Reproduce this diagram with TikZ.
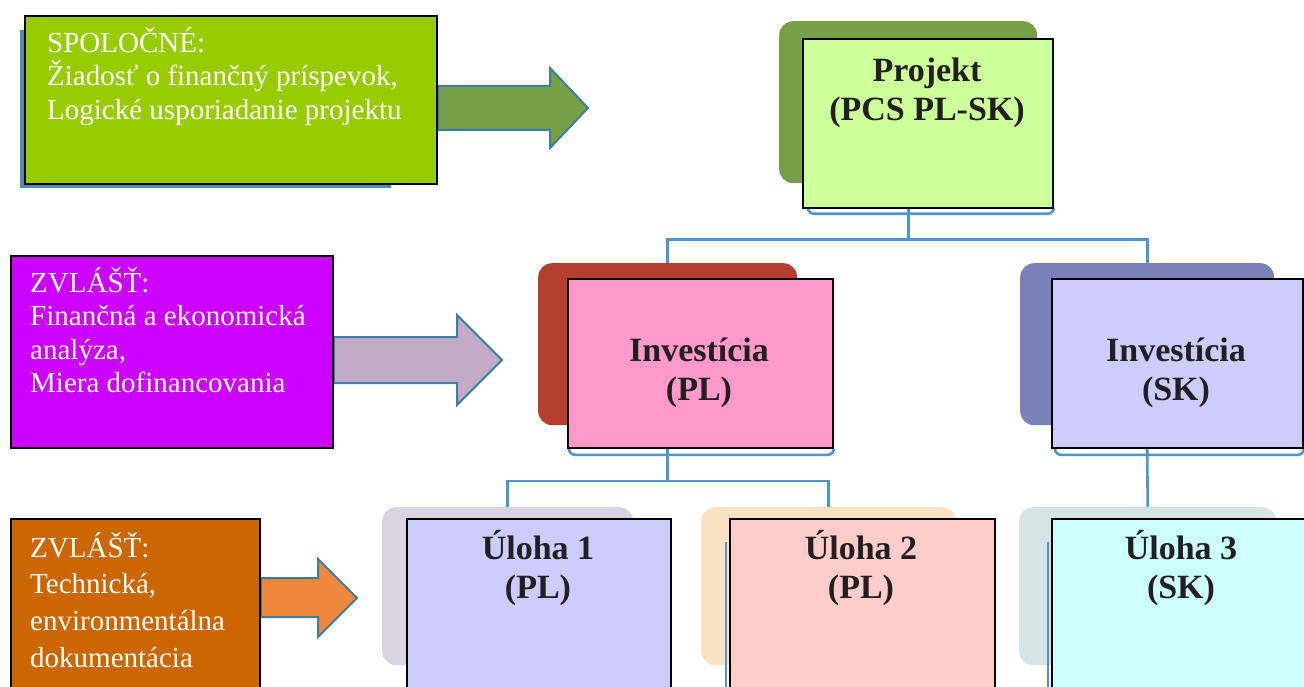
\documentclass[tikz,border=0pt]{standalone}
\usepackage{fontspec}
\setmainfont{Liberation Serif}
\usetikzlibrary{backgrounds}

\definecolor{spolgreen}{HTML}{99CC00}
\definecolor{zvlviolet}{HTML}{CC00FF}
\definecolor{zvlorange}{HTML}{CC6600}
\definecolor{projfill}{HTML}{CCFF99}
\definecolor{plfill}{HTML}{FF99CC}
\definecolor{skfill}{HTML}{CCCCFF}
\definecolor{ul1fill}{HTML}{CCCCFF}
\definecolor{ul2fill}{HTML}{FFCCCC}
\definecolor{ul3fill}{HTML}{CCFFFF}
\definecolor{projshade}{HTML}{76A045}
\definecolor{plshade}{HTML}{B43F2E}
\definecolor{skshade}{HTML}{7981B8}
\definecolor{ul1shade}{HTML}{DAD3E0}
\definecolor{ul2shade}{HTML}{FBE2C5}
\definecolor{ul3shade}{HTML}{D5E5E5}
\definecolor{spolshade}{HTML}{4E8DB3}
\definecolor{connblue}{HTML}{4F94CD}
\definecolor{arrowedge}{HTML}{3B7EA6}
\definecolor{arrowgreen}{HTML}{77A046}
\definecolor{arrowmauve}{HTML}{C2A9C6}
\definecolor{arroworange}{HTML}{F0883C}
\definecolor{textdark}{HTML}{231F20}

\tikzset{
  box/.style={draw=black, line width=1.8pt, anchor=north west, inner sep=0pt},
  under/.style={rounded corners=14pt, anchor=north west, inner sep=0pt},
  conn/.style={connblue, line width=2.6pt},
  bigarrow/.style={draw=arrowedge, line width=2pt},
  lefttxt/.style={text=white, align=left, anchor=north west, inner sep=0pt, font=\fontsize{29}{33.5}\selectfont},
  boldtxt/.style={text=textdark, align=center, inner sep=0pt, font=\fontsize{34}{39}\selectfont\bfseries},
}

\begin{document}
\begin{tikzpicture}[x=1pt,y=-1pt]
    \useasboundingbox (0,0) rectangle (1304,687);
    \clip (0,0) rectangle (1304,687);

    % shapes behind the boxes
    \node[under, fill=projshade, minimum width=258pt, minimum height=162pt] (projsh) at (779,21) {};
    \node[under, fill=plshade, minimum width=259pt, minimum height=162pt] (invplsh) at (538,263) {};
    \node[under, fill=skshade, minimum width=254pt, minimum height=162pt] (invsksh) at (1020,263) {};
    \node[under, fill=ul1shade, minimum width=251pt, minimum height=158pt] (ul1sh) at (382,507) {};
    \node[under, fill=ul2shade, minimum width=255pt, minimum height=158pt] (ul2sh) at (701,507) {};
    \node[under, fill=ul3shade, minimum width=257pt, minimum height=158pt] (ul3sh) at (1019,507) {};
    \node[anchor=north west, inner sep=0pt, fill=spolshade, minimum width=371pt, minimum height=158pt] (spolsh) at (20,30) {};

    % boxes
    \node[box, fill=spolgreen, minimum width=412pt, minimum height=168pt] (spol) at (24,15) {};
    \node[box, fill=zvlviolet, minimum width=322pt, minimum height=192pt] (zvl1) at (10,255) {};
    \node[box, fill=zvlorange, minimum width=249pt, minimum height=200pt] (zvl2) at (10,518) {};
    \node[box, fill=projfill, minimum width=250pt, minimum height=169pt] (proj) at (802,38) {};
    \node[box, fill=plfill, minimum width=265pt, minimum height=169pt] (invpl) at (567,278) {};
    \node[box, fill=skfill, minimum width=251pt, minimum height=169pt] (invsk) at (1051,278) {};
    \node[box, fill=ul1fill, minimum width=264pt, minimum height=200pt] (ul1) at (406,518) {};
    \node[box, fill=ul2fill, minimum width=265pt, minimum height=200pt] (ul2) at (729,518) {};
    \node[box, fill=ul3fill, minimum width=260pt, minimum height=200pt] (ul3) at (1051,518) {};

    % texts
    \node[lefttxt] (spoltxt) at (47,27) {SPOLOČNÉ:\\Žiadosť o finančný príspevok,\\Logické usporiadanie projektu};
    \node[lefttxt] (zvl1txt) at (30,267) {ZVLÁŠŤ:\\Finančná a ekonomická\\analýza,\\Miera dofinancovania};
    \node[lefttxt, font=\fontsize{29}{36.7}\selectfont] (zvl2txt) at (30,532) {ZVLÁŠŤ:\\Technická,\\environmentálna\\dokumentácia};
    \node[boldtxt] (projtxt) at (927,93) {Projekt\\(PCS PL-SK)};
    \node[boldtxt] (invpltxt) at (699,373) {Investícia\\(PL)};
    \node[boldtxt] (invsktxt) at (1176,373) {Investícia\\(SK)};
    \node[boldtxt] (ul1txt) at (538,568) {Úloha 1\\(PL)};
    \node[boldtxt] (ul2txt) at (861,568) {Úloha 2\\(PL)};
    \node[boldtxt] (ul3txt) at (1181,568) {Úloha 3\\(SK)};

    \begin{scope}[on background layer]
        % block arrows
        \filldraw[bigarrow, fill=arrowgreen] ([yshift=13.9pt]spol.east) -- (550,86) -- (550,68) -- (588,108) -- (550,148) -- (550,130) -- ([yshift=-30.1pt]spol.east) -- cycle;
        \filldraw[bigarrow, fill=arrowmauve] ([yshift=14.9pt]zvl1.east) -- (457,337) -- (457,315) -- (502,360) -- (457,405) -- (457,383) -- ([yshift=-31.1pt]zvl1.east) -- cycle;
        \filldraw[bigarrow, fill=arroworange] ([yshift=40.9pt]zvl2.east) -- (318,578) -- (318,559) -- (357,598) -- (318,637) -- (318,617) -- ([yshift=1.9pt]zvl2.east) -- cycle;

        % tree
        \draw[conn, rounded corners=6pt] ([xshift=6pt]proj.south west) |- ([yshift=-5pt]proj.south east) -- (proj.south east);
        \draw[conn, rounded corners=6pt] ([xshift=2pt]invpl.south west) |- ([yshift=-6pt]invpl.south east) -- (invpl.south east);
        \draw[conn, rounded corners=6pt] ([xshift=4pt]invsk.south west) |- ([yshift=-6pt]invsk.south east) -- (invsk.south east);
        \draw[conn] (projsh.south |- proj.south) -- ++(0,31) -| (invplsh.north);
        \draw[conn] (projsh.south |- proj.south) -- ++(0,31) -| (invsksh.north);
        \draw[conn] (invplsh.south |- invpl.south) -- ++(0,32) -| (ul1sh.north);
        \draw[conn] (invplsh.south |- invpl.south) -- ++(0,32) -| (ul2sh.north);
        \draw[conn] (invsksh.south |- invsk.south) -- (ul3sh.north);
    \end{scope}
    \draw[conn, line width=2pt] ([xshift=25pt,yshift=-35pt]ul2sh.north west) -- ++(0,160);
    \draw[conn, line width=2pt] ([xshift=29pt,yshift=-35pt]ul3sh.north west) -- ++(0,160);
\end{tikzpicture}
\end{document}
